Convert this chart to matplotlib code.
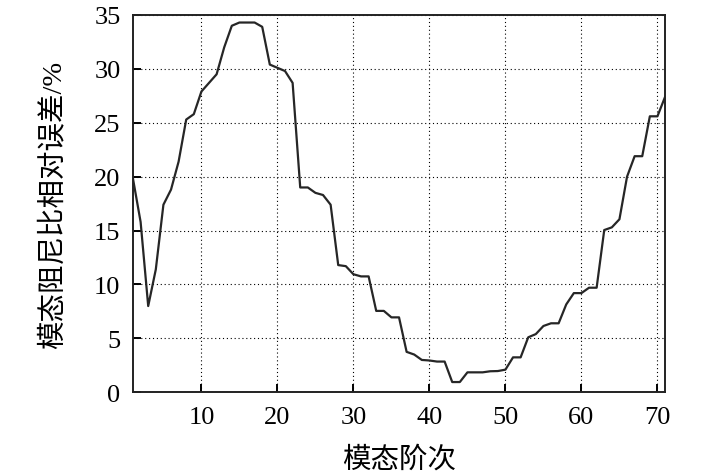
import matplotlib
matplotlib.use("Agg")
import matplotlib.pyplot as plt

plt.rcParams['font.family'] = ['Liberation Serif', 'Noto Sans CJK SC']

# 模态阶次 1..71
modes = list(range(1, 72))
errors = [
    19.8, 15.8, 8.0, 11.4, 17.4, 18.8, 21.4, 25.3, 25.8, 27.9,
    28.7, 29.5, 32.0, 34.0, 34.3, 34.3, 34.3, 33.9, 30.4, 30.1,
    29.8, 28.7, 19.0, 19.0, 18.5, 18.3, 17.4, 11.8, 11.7, 10.95,
    10.75, 10.75, 7.55, 7.55, 6.95, 6.95, 3.75, 3.5, 3.0, 2.95,
    2.85, 2.85, 0.95, 0.95, 1.85, 1.85, 1.85, 1.95, 1.97, 2.1,
    3.24, 3.24, 5.1, 5.4, 6.15, 6.4, 6.4, 8.15, 9.2, 9.2,
    9.7, 9.7, 15.05, 15.3, 16.05, 20.0, 21.9, 21.9, 25.6, 25.6,
    27.4,
]
xticks = [10, 20, 30, 40, 50, 60, 70]
yticks = [0, 5, 10, 15, 20, 25, 30, 35]

fig = plt.figure(figsize=(7.09, 4.77), dpi=100)
ax = fig.add_axes([0.1876, 0.1755, 0.938 - 0.1876, 0.9665 - 0.1755])

ax.plot(modes, errors, color='#262626', linewidth=1.6)

ax.set_xlim(1, 71)
ax.set_ylim(0, 35)
ax.set_xticks(xticks)
ax.set_yticks(yticks)
ax.grid(True, color='black', linestyle=(0, (1, 2.5)), linewidth=0.8)

for s in ax.spines.values():
    s.set_linewidth(1.4)
    s.set_color('#222222')

ax.tick_params(direction='in', length=6, width=1.4, labelsize=19,
               top=False, right=False)
ax.tick_params(axis='x', pad=10)
ax.tick_params(axis='y', pad=9)

ax.set_xlabel('模态阶次', fontsize=20.5, labelpad=13)
ax.set_ylabel('模态阻尼比相对误差/%', fontsize=20.5, labelpad=20)

fig.savefig('out.png', dpi=100)
